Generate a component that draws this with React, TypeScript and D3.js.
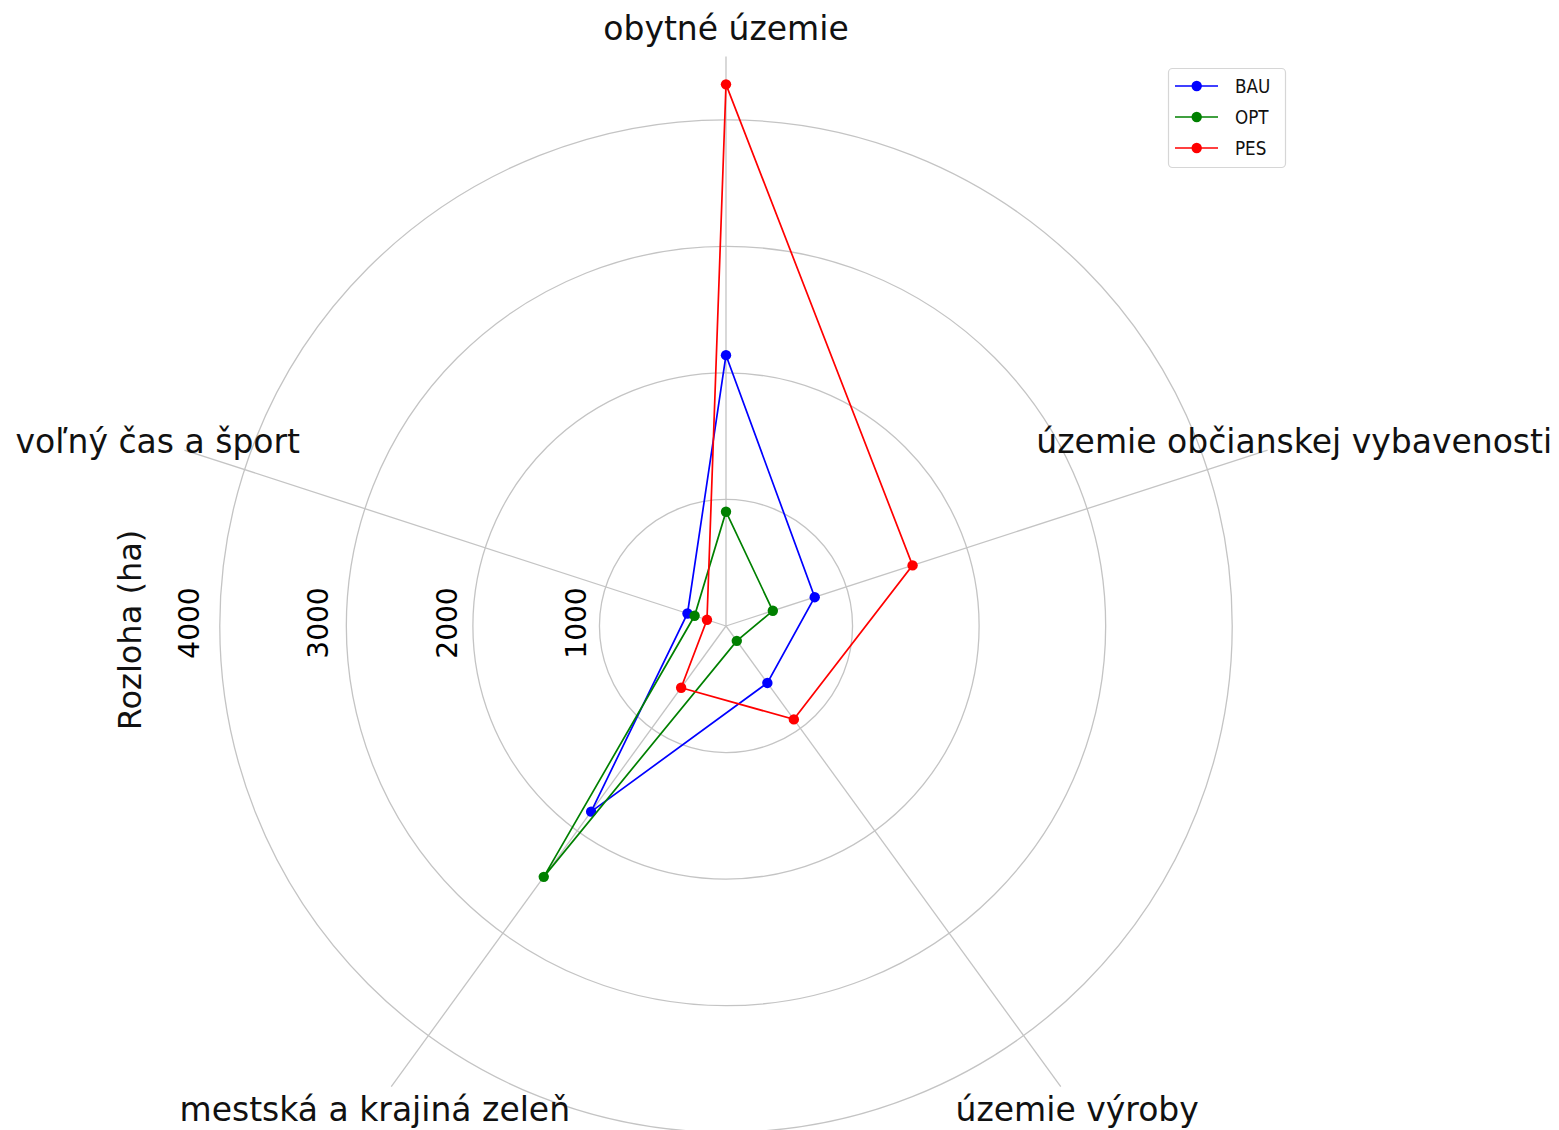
import React from "react";
import * as d3 from "d3";

const categories = [
  "obytné územie",
  "územie občianskej vybavenosti",
  "územie výroby",
  "mestská a krajiná zeleň",
  "voľný čas a šport",
];
const seriesNames = ["BAU", "OPT", "PES"];
const bauValues = [2140, 737, 556, 1813, 320];
const optValues = [903, 389, 145, 2450, 261];
const pesValues = [4280, 1550, 912, 603, 158];
const seriesColors = ["#0000ff", "#008000", "#ff0000"];
const radialTicks = [1000, 2000, 3000, 4000];
const rMaxValue = 4500;
const yLabel = "Rozloha (ha)";

const W = 1559;
const H = 1130;
const cx = 726;
const cy = 626;
const FONT = "'DejaVu Sans', sans-serif";

export default function App() {
  const r = d3.scaleLinear().domain([0, rMaxValue]).range([0, 569.5]);
  const n = categories.length;
  const angle = (i: number) => (i * 2 * Math.PI) / n;
  const px = (i: number, v: number) => cx + r(v) * Math.sin(angle(i));
  const py = (i: number, v: number) => cy - r(v) * Math.cos(angle(i));

  const allSeries = [bauValues, optValues, pesValues];
  const lineGen = d3
    .lineRadial<number>()
    .angle((_, i) => angle(i))
    .radius((v) => r(v))
    .curve(d3.curveLinearClosed);

  const labelR = r(rMaxValue) + 28;
  const lgScale = 0.84;

  return (
    <svg
      width={W}
      height={H}
      style={{ position: "absolute", left: 0, top: 0, background: "#fff" }}
      fontFamily={FONT}
    >
      {radialTicks.map((t) => (
        <circle key={t} cx={cx} cy={cy} r={r(t)} fill="none" stroke="#c4c4c4" strokeWidth={1.3} />
      ))}
      {categories.map((c, i) => (
        <line
          key={c}
          x1={cx}
          y1={cy}
          x2={px(i, rMaxValue)}
          y2={py(i, rMaxValue)}
          stroke="#c4c4c4"
          strokeWidth={1.3}
        />
      ))}
      {categories.map((c, i) => (
        <text
          key={"l" + c}
          x={cx + labelR * Math.sin(angle(i))}
          y={cy - labelR * Math.cos(angle(i))}
          textAnchor="middle"
          dominantBaseline="central"
          fontSize={33}
          fill="#111"
        >
          {c}
        </text>
      ))}
      {radialTicks.map((t) => {
        const x = cx - (r(t) * 1.018 + 21);
        const y = 623;
        return (
          <text
            key={"t" + t}
            x={x}
            y={y}
            transform={`rotate(-90 ${x} ${y})`}
            textAnchor="middle"
            dominantBaseline="central"
            fontSize={28}
            fill="#000"
          >
            {t}
          </text>
        );
      })}
      <text
        x={130}
        y={630}
        transform={`rotate(-90 130 630)`}
        textAnchor="middle"
        dominantBaseline="central"
        fontSize={32}
        fill="#111"
      >
        {yLabel}
      </text>
      {allSeries.map((vals, s) => (
        <g key={seriesNames[s]} transform={`translate(${cx},${cy})`}>
          <path d={lineGen(vals) || ""} fill="none" stroke={seriesColors[s]} strokeWidth={1.7} />
          {vals.map((v, i) => (
            <circle
              key={i}
              cx={r(v) * Math.sin(angle(i))}
              cy={-r(v) * Math.cos(angle(i))}
              r={5.2}
              fill={seriesColors[s]}
            />
          ))}
        </g>
      ))}
      <g>
        <rect x={1168.5} y={68.5} width={117} height={99} rx={4} fill="#fff" fillOpacity={0.8} stroke="#d6d6d6" strokeWidth={1.2} />
        {seriesNames.map((name, s) => {
          const y = 86 + s * 31;
          return (
            <g key={"lg" + name}>
              <line x1={1175} x2={1218} y1={y} y2={y} stroke={seriesColors[s]} strokeWidth={1.7} />
              <circle cx={1196.7} cy={y} r={5.2} fill={seriesColors[s]} />
              <text
                x={1235}
                y={y}
                transform={`translate(${1235 * (1 - lgScale)},0) scale(${lgScale},1)`}
                dominantBaseline="central"
                fontSize={20}
                fill="#111"
              >
                {name}
              </text>
            </g>
          );
        })}
      </g>
    </svg>
  );
}
